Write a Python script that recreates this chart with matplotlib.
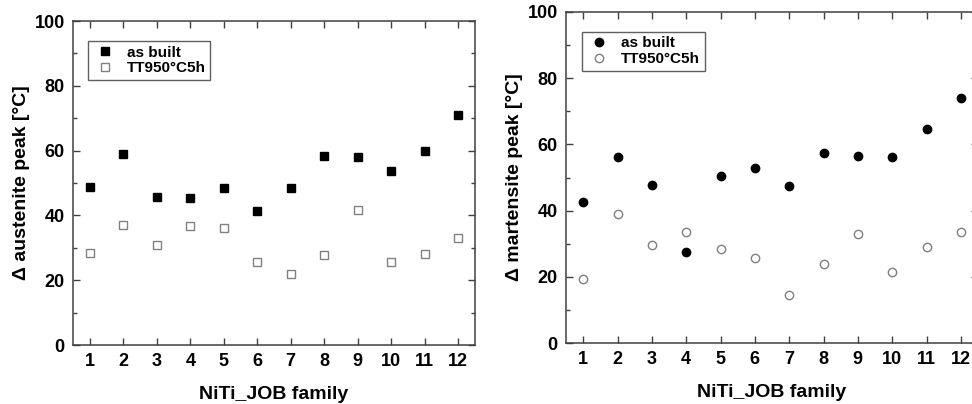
import numpy as np
import matplotlib.pyplot as plt
from matplotlib.ticker import MultipleLocator

plt.rcParams['font.family'] = ['Liberation Sans', 'DejaVu Sans']
plt.rcParams['font.weight'] = 'bold'

families = np.arange(1, 13)

# Δ austenite peak [°C]
aus_built = [48.8, 58.8, 45.8, 45.5, 48.5, 41.3, 48.4, 58.3, 58.1, 53.7, 60.0, 70.9]
aus_tt = [28.4, 37.0, 31.0, 36.8, 36.2, 25.5, 21.8, 27.8, 41.7, 25.5, 28.1, 33.1]

# Δ martensite peak [°C]
mar_built = [42.6, 56.3, 47.8, 27.4, 50.6, 52.8, 47.5, 57.3, 56.6, 56.2, 64.6, 74.0]
mar_tt = [19.2, 39.0, 29.5, 33.6, 28.4, 25.6, 14.4, 24.0, 32.9, 21.6, 29.1, 33.4]

W, H = 972, 404
fig = plt.figure(figsize=(W / 100, H / 100), dpi=100)


def px_axes(x0, x1, ytop, ybot):
    return fig.add_axes([x0 / W, (H - ybot) / H, (x1 - x0) / W, (ybot - ytop) / H])


def style(ax, ylabel):
    ax.set_xlim(0.5, 12.5)
    ax.set_ylim(0, 100)
    ax.set_xticks(families)
    ax.yaxis.set_major_locator(MultipleLocator(20))
    ax.yaxis.set_minor_locator(MultipleLocator(10))
    ax.tick_params(which='both', direction='in', top=True, right=True,
                   color='#404040', labelsize=13, width=1)
    ax.tick_params(which='major', length=5, pad=6)
    ax.tick_params(which='minor', length=3)
    for lab in ax.get_xticklabels() + ax.get_yticklabels():
        lab.set_fontweight('bold')
    for s in ax.spines.values():
        s.set_color('#404040')
        s.set_linewidth(1.1)
    ax.set_xlabel('NiTi_JOB family', fontsize=14, fontweight='bold', labelpad=11)
    ax.set_ylabel(ylabel, fontsize=14, fontweight='bold', labelpad=3)


ax1 = px_axes(73, 475, 21, 345)
ax1.plot(families, aus_built, 's', ms=5.5, mfc='black', mec='black', label='as built')
ax1.plot(families, aus_tt, 's', ms=5.5, mfc='white', mec='#808080', mew=1, label='TT950°C5h')
style(ax1, 'Δ austenite peak [°C]')

ax2 = px_axes(566, 978, 12, 343)
ax2.plot(families, mar_built, 'o', ms=6, mfc='black', mec='black', label='as built')
ax2.plot(families, mar_tt, 'o', ms=6, mfc='white', mec='#808080', mew=1, label='TT950°C5h')
style(ax2, 'Δ martensite peak [°C]')

for ax, anchor in ((ax1, (0.037, 0.938)), (ax2, (0.039, 0.94))):
    leg = ax.legend(loc='upper left', bbox_to_anchor=anchor, borderaxespad=0,
                    fancybox=False, edgecolor='#606060', framealpha=1,
                    borderpad=0.3, labelspacing=0.1, handlelength=1.6,
                    handletextpad=0.65, prop={'weight': 'bold', 'size': 11})
    leg.get_frame().set_linewidth(1)

fig.savefig('out.png', dpi=100)
